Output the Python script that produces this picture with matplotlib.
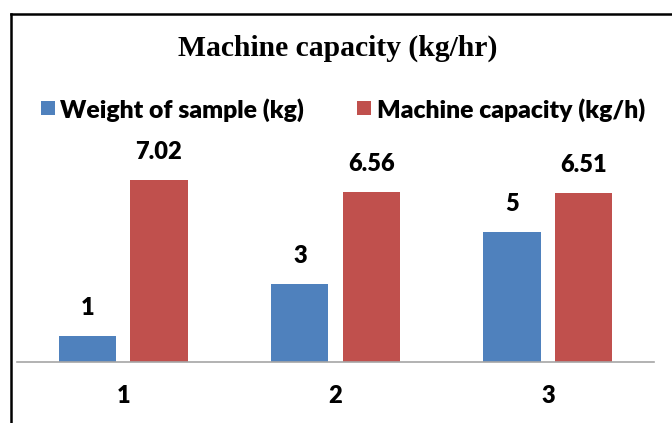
import matplotlib
matplotlib.use("Agg")
import matplotlib.pyplot as plt
import numpy as np
from matplotlib.lines import Line2D
from matplotlib.patches import Rectangle

categories = ["1", "2", "3"]
weight_of_sample = [1, 3, 5]
machine_capacity = [7.02, 6.56, 6.51]
series_names = ["Weight of sample (kg)", "Machine capacity (kg/h)"]
title = "Machine capacity (kg/hr)"

W, H = 672, 423
fig = plt.figure(figsize=(W / 100, H / 100), dpi=100)
ax = fig.add_axes([17 / W, 61.5 / H, 637 / W, 207 / H])

blue = "#4F81BD"
red = "#C0504D"
colors = [blue, red]
x = np.arange(len(categories))
bw = 0.27
off = 0.168
sans = "Lato"

b1 = ax.bar(x - off, weight_of_sample, bw, color=blue)
b2 = ax.bar(x + off, machine_capacity, bw, color=red)

for bars, vals in ((b1, weight_of_sample), (b2, machine_capacity)):
    for rect, v in zip(bars, vals):
        ax.annotate(f"{v:g}", (rect.get_x() + rect.get_width() / 2, v),
                    xytext=(0, 12), textcoords="offset points",
                    ha="center", va="bottom", fontsize=17, fontweight="heavy",
                    family=sans, color="black")

ax.set_xlim(-0.5, 2.5)
ax.set_ylim(0, 8)
ax.set_xticks(x)
ax.set_xticklabels(categories, fontsize=17, fontweight="heavy", family=sans)
ax.tick_params(axis="x", length=0, pad=17)
ax.set_yticks([])
for s in ("top", "right", "left"):
    ax.spines[s].set_visible(False)
ax.spines["bottom"].set_color("#A6A6A6")
ax.spines["bottom"].set_linewidth(1.2)
ax.patch.set_alpha(0)

fig.text(338 / W, 1 - 48 / H, title, ha="center", va="center",
         fontsize=21.3, fontweight="bold", family="Liberation Serif")

# legend (manual, Excel-style)
sq = 14
legend_y = 108.5
for name, col, sx, tx in zip(series_names, colors, [41, 357], [60, 377]):
    fig.add_artist(Rectangle((sx / W, 1 - (legend_y + sq / 2) / H), sq / W, sq / H,
                             transform=fig.transFigure, color=col, lw=0))
    fig.text(tx / W, 1 - legend_y / H, name, ha="left", va="center_baseline",
             fontsize=17.8, fontweight="heavy", family=sans)

fig.add_artist(Line2D([11 / W, 1], [1 - 14 / H, 1 - 14 / H], color="black", lw=1.8,
                      transform=fig.transFigure))
fig.add_artist(Line2D([11 / W, 11 / W], [0, 1 - 14 / H], color="black", lw=1.8,
                      transform=fig.transFigure))

fig.savefig("out.png", dpi=100)
